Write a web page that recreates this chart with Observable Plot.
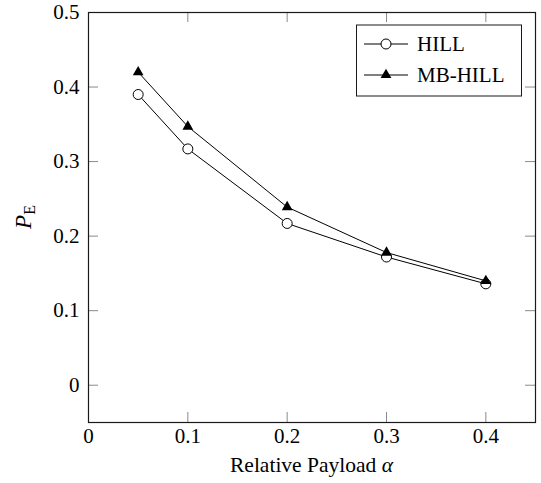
<!DOCTYPE html>
<html><head><meta charset="utf-8">
<script src="https://cdn.jsdelivr.net/npm/d3@7"></script>
<script src="https://cdn.jsdelivr.net/npm/@observablehq/plot@0.6"></script>
<style>
body{margin:0;background:#fff}
#chart svg text, #chart svg tspan { font-family: 'Liberation Serif', serif !important; }
</style>
</head><body><div id="chart"></div><script>
const alphas = [0.05, 0.1, 0.2, 0.3, 0.4];
const hill = [0.390, 0.317, 0.217, 0.172, 0.136];
const mbHill = [0.420, 0.347, 0.239, 0.178, 0.140];
const xTicks = [0, 0.1, 0.2, 0.3, 0.4];
const yTicks = [0, 0.1, 0.2, 0.3, 0.4, 0.5];
const xDomain = [0, 0.45];
const yDomain = [-0.05, 0.5];

const W = 541, H = 483;
const mL = 88, mR = 6, mT = 12, mB = 61;
const font = "'Liberation Serif', serif";
const fs = 21;
const tickLen = 10;
const triR = 4;
const xPerPx = (xDomain[1] - xDomain[0]) / (W - mL - mR);
const yPerPx = (yDomain[1] - yDomain[0]) / (H - mT - mB);

const hillData = alphas.map((a, i) => ({a, v: hill[i]}));
const mbData = alphas.map((a, i) => ({a, v: mbHill[i]}));
const fmt = d => d === 0 ? "0" : d.toFixed(1);
const tickColor = "#8a8a8a";

const chart = Plot.plot({
  width: W, height: H,
  marginLeft: mL, marginRight: mR, marginTop: mT, marginBottom: mB,
  x: {domain: xDomain},
  y: {domain: yDomain},
  style: {fontFamily: font, fontSize: fs + "px", background: "white", color: "black"},
  marks: [
    Plot.ruleX(xTicks, {x: d => d, y1: yDomain[0], y2: yDomain[0] + tickLen * yPerPx, stroke: tickColor, strokeWidth: 1}),
    Plot.ruleX(xTicks, {x: d => d, y1: yDomain[1] - tickLen * yPerPx, y2: yDomain[1], stroke: tickColor, strokeWidth: 1}),
    Plot.ruleY(yTicks, {y: d => d, x1: xDomain[0], x2: xDomain[0] + tickLen * xPerPx, stroke: tickColor, strokeWidth: 1}),
    Plot.ruleY(yTicks, {y: d => d, x1: xDomain[1] - tickLen * xPerPx, x2: xDomain[1], stroke: tickColor, strokeWidth: 1}),
    Plot.frame({stroke: "#1a1a1a", strokeWidth: 1.2}),
    Plot.axisX(xTicks, {tickSize: 0, tickPadding: 6, tickFormat: fmt, label: null, fontSize: fs}),
    Plot.axisY(yTicks, {tickSize: 0, tickPadding: 9, tickFormat: fmt, label: null, fontSize: fs}),
    Plot.line(hillData, {x: "a", y: "v", stroke: "black", strokeWidth: 1}),
    Plot.line(mbData, {x: "a", y: "v", stroke: "black", strokeWidth: 1}),
    Plot.dot(hillData, {x: "a", y: "v", r: 5, fill: "white", stroke: "black", strokeWidth: 1}),
    Plot.dot(mbData, {x: "a", y: "v", r: triR, symbol: "triangle", fill: "black", stroke: "none"})
  ]
});

const svg = d3.select(chart);
const txtStyle = (sel, size) => sel.style("font-family", font).style("font-size", size + "px").style("fill", "black");

// x axis label
const xl = svg.append("text")
  .attr("x", mL + (W - mL - mR) / 2).attr("y", 472)
  .style("text-anchor", "middle");
txtStyle(xl, 21.5);
xl.append("tspan").text("Relative Payload ");
xl.append("tspan").style("font-style", "italic").text("α");

// y axis label
const yl = svg.append("text")
  .attr("transform", `translate(31, ${mT + (H - mT - mB) / 2}) rotate(-90)`)
  .style("text-anchor", "middle");
txtStyle(yl, 23);
yl.append("tspan").style("font-style", "italic").text("P");
yl.append("tspan").style("font-size", "16px").attr("dy", 4).text("E");

// legend
const lg = svg.append("g");
lg.append("rect").attr("x", 356.5).attr("y", 25).attr("width", 165).attr("height", 71)
  .attr("fill", "white").attr("stroke", "#1a1a1a").attr("stroke-width", 1);
const rows = [{label: "HILL", y: 44, sym: "circle"}, {label: "MB-HILL", y: 75, sym: "triangle"}];
rows.forEach(r => {
  lg.append("line").attr("x1", 364).attr("x2", 408).attr("y1", r.y).attr("y2", r.y)
    .attr("stroke", "black").attr("stroke-width", 1);
  if (r.sym === "circle") {
    lg.append("circle").attr("cx", 386).attr("cy", r.y).attr("r", 5)
      .attr("fill", "white").attr("stroke", "black").attr("stroke-width", 1);
  } else {
    lg.append("path").attr("transform", `translate(386,${r.y})`)
      .attr("d", d3.symbol(d3.symbolTriangle, Math.PI * triR * triR)()).attr("fill", "black");
  }
  const t = lg.append("text").attr("x", 417).attr("y", r.y + 7).style("text-anchor", "start").text(r.label);
  txtStyle(t, fs);
});

document.getElementById("chart").appendChild(chart);
</script></body></html>
